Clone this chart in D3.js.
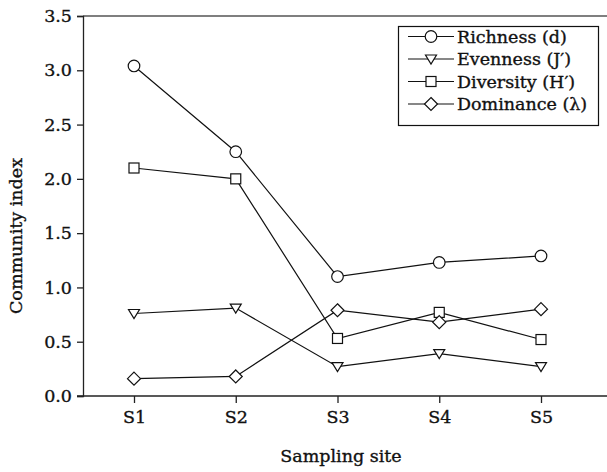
<!DOCTYPE html>
<html><head><meta charset="utf-8">
<script src="https://cdn.jsdelivr.net/npm/d3@7"></script>
<style>body{margin:0;background:#fff}svg{display:block}text{font-family:"DejaVu Serif",serif;fill:#111;stroke:#111;stroke-width:0.35px}</style>
</head><body><svg id="c" width="607" height="472"></svg>
<script>
const sites = ["S1","S2","S3","S4","S5"];
const richness = [3.04, 2.25, 1.10, 1.23, 1.29];
const evenness = [0.76, 0.81, 0.27, 0.39, 0.27];
const diversity = [2.10, 2.00, 0.53, 0.77, 0.52];
const dominance = [0.16, 0.18, 0.79, 0.68, 0.80];
const seriesNames = ["Richness (d)", "Evenness (J\u2032)", "Diversity (H\u2032)", "Dominance (\u03bb)"];
const yTicks = [0, 0.5, 1.0, 1.5, 2.0, 2.5, 3.0, 3.5];

const series = [
  {name: seriesNames[0], values: richness, sym: "circle"},
  {name: seriesNames[1], values: evenness, sym: "tri"},
  {name: seriesNames[2], values: diversity, sym: "square"},
  {name: seriesNames[3], values: dominance, sym: "diamond"}
];

const FONT = '"DejaVu Serif",serif';
const FS = "17.5px";
const svg = d3.select("#c");
const W = 607, H = 472;
const L = 83, T = 16, B = 396;
const x = d3.scalePoint().domain(sites).range([134, 541]);
const y = d3.scaleLinear().domain([0, 3.5]).range([B, T]);

svg.append("line").attr("x1", L).attr("x2", W).attr("y1", T).attr("y2", T)
  .attr("stroke", "#555").attr("stroke-width", 1.3);

const ya = svg.append("g").attr("transform", `translate(${L},0)`)
  .call(d3.axisLeft(y).tickValues(yTicks).tickFormat(d3.format(".1f")).tickSize(6).tickPadding(5));
ya.attr("font-family", null).attr("font-size", null);
ya.select(".domain").attr("stroke", "#222").attr("stroke-width", 1.3);
ya.selectAll(".tick line").attr("stroke", "#222").attr("stroke-width", 1.3);
ya.selectAll("text").style("font-size", FS).style("font-family", FONT).attr("fill", "#111");

const xa = svg.append("g").attr("transform", `translate(0,${B})`)
  .call(d3.axisBottom(x).tickSize(7).tickPadding(8).tickSizeOuter(0));
xa.attr("font-family", null).attr("font-size", null);
xa.select(".domain").attr("d", `M${L-6},0H${W}`).attr("stroke", "#222").attr("stroke-width", 1.3);
xa.selectAll(".tick line").attr("stroke", "#222").attr("stroke-width", 1.3);
xa.selectAll("text").style("font-size", FS).style("font-family", FONT).attr("fill", "#111");

svg.append("text").attr("transform", `translate(22,${H/2}) rotate(-90)`)
  .attr("text-anchor", "middle").style("font-size", FS).text("Community index");
svg.append("text").attr("x", 341).attr("y", 462)
  .attr("text-anchor", "middle").style("font-size", FS).text("Sampling site");

function marker(g, sym) {
  const s = {fill: "#fff", stroke: "#111", "stroke-width": 1.2};
  let m;
  if (sym === "circle") m = g.append("circle").attr("r", 5.8);
  else if (sym === "square") m = g.append("rect").attr("x", -5).attr("y", -5).attr("width", 10).attr("height", 10);
  else if (sym === "tri") m = g.append("path").attr("d", "M-5.5,-4L5.5,-4L0,5Z");
  else m = g.append("path").attr("d", "M0,-6.5L6.5,0L0,6.5L-6.5,0Z");
  for (const k in s) m.attr(k, s[k]);
}

const line = d3.line().x((d, i) => x(sites[i])).y(d => y(d));
series.forEach(s => {
  svg.append("path").attr("d", line(s.values)).attr("fill", "none")
    .attr("stroke", "#111").attr("stroke-width", 1.2);
});
series.forEach(s => {
  s.values.forEach((v, i) => {
    const g = svg.append("g").attr("transform", `translate(${x(sites[i])},${y(v)})`);
    marker(g, s.sym);
  });
});

const lg = svg.append("g");
lg.append("rect").attr("x", 398.5).attr("y", 26.5).attr("width", 200).attr("height", 99)
  .attr("fill", "#fff").attr("stroke", "#111").attr("stroke-width", 1.2);
series.forEach((s, i) => {
  const cy = 35.5 + i * 22.5;
  const row = lg.append("g").attr("transform", `translate(0,${cy + 1})`);
  row.append("line").attr("x1", 408).attr("x2", 454).attr("y1", 0).attr("y2", 0)
    .attr("stroke", "#111").attr("stroke-width", 1.2);
  const mg = row.append("g").attr("transform", "translate(431,0)");
  marker(mg, s.sym);
  row.append("text").attr("x", 457).attr("y", 6).style("font-size", FS).text(s.name);
});
</script></body></html>
